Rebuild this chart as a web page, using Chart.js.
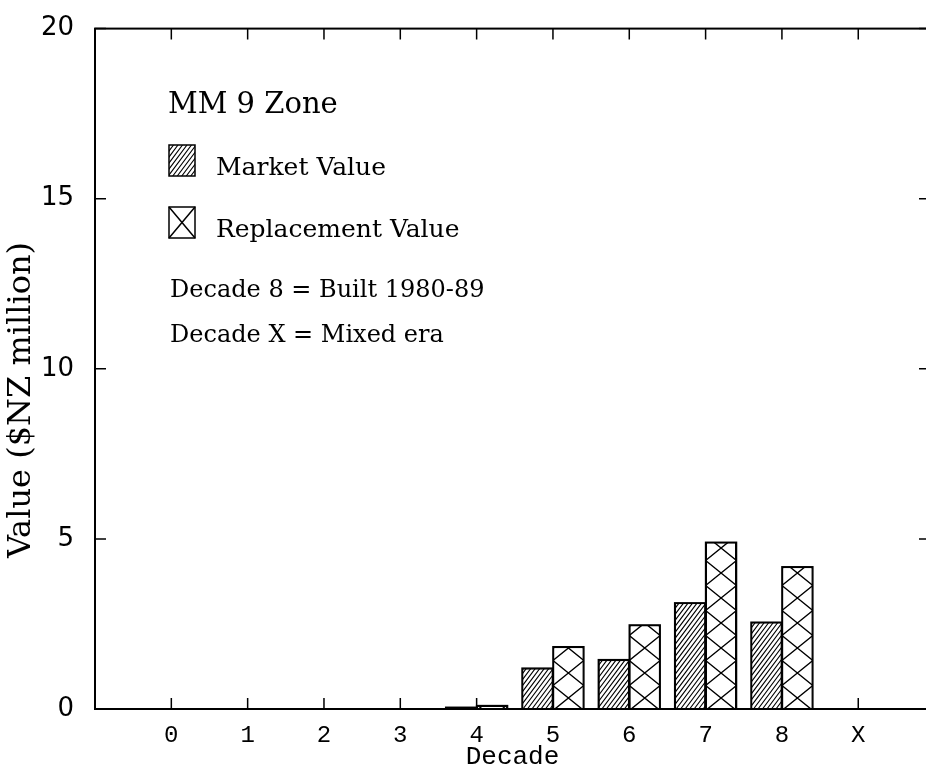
<!DOCTYPE html>
<html>
<head>
<meta charset="utf-8">
<script src="https://cdn.jsdelivr.net/npm/chart.js@4.4.0/dist/chart.umd.min.js"></script>
<style>
html, body { margin: 0; padding: 0; background: #fff; overflow: hidden; }
#wrap { position: relative; width: 932px; height: 776px; }
</style>
</head>
<body>
<div id="wrap"><canvas id="chart"></canvas></div>
<script>
// data
var decades = ['0', '1', '2', '3', '4', '5', '6', '7', '8', 'X'];
var marketValue = [0, 0, 0, 0, 0.05, 1.2, 1.45, 3.12, 2.55, 0];
var replacementValue = [0, 0, 0, 0, 0.1, 1.83, 2.47, 4.9, 4.18, 0];
var yTicks = [0, 5, 10, 15, 20];

var zoneTitle = 'MM 9 Zone';
var seriesNames = ['Market Value', 'Replacement Value'];
var notes = ['Decade 8 = Built 1980-89', 'Decade X = Mixed era'];
var yTitle = 'Value ($NZ million)';

var serif = '"DejaVu Serif", serif';
var mono = '"Liberation Mono", monospace';

function diagHatch(ctx, x0, y0, x1, y1) {
    ctx.save();
    ctx.beginPath();
    ctx.rect(x0, y0, x1 - x0, y1 - y0);
    ctx.clip();
    ctx.beginPath();
    var h = y1 - y0, run = h * 0.75;
    for (var x = x0 - run; x < x1 + 5; x += 4.5) {
        ctx.moveTo(x, y1);
        ctx.lineTo(x + run, y0);
    }
    ctx.lineWidth = 1.1;
    ctx.strokeStyle = '#000';
    ctx.stroke();
    ctx.restore();
}

function crossHatch(ctx, x0, y0, x1, base) {
    var period = 25, half = period / 2;
    ctx.save();
    ctx.beginPath();
    ctx.rect(x0, y0, x1 - x0, base - y0);
    ctx.clip();
    ctx.beginPath();
    for (var yc = base - 11 + period; yc > y0 - period; yc -= period) {
        ctx.moveTo(x0, yc + half);
        ctx.lineTo(x1, yc - half);
        ctx.moveTo(x0, yc - half);
        ctx.lineTo(x1, yc + half);
    }
    ctx.lineWidth = 1.4;
    ctx.strokeStyle = '#000';
    ctx.stroke();
    ctx.restore();
}

var framePlugin = {
    id: 'frame',
    afterDatasetsDraw: function(chart) {
        var ctx = chart.ctx;
        // hatching inside bars
        chart.data.datasets.forEach(function(ds, di) {
            var meta = chart.getDatasetMeta(di);
            meta.data.forEach(function(bar) {
                var p = bar.getProps(['x', 'y', 'base', 'width'], true);
                if (Math.abs(p.base - p.y) < 0.5) return;
                var x0 = p.x - p.width / 2, x1 = p.x + p.width / 2;
                if (ds.hatch === 'diag') diagHatch(ctx, x0, p.y, x1, p.base);
                else crossHatch(ctx, x0, p.y, x1, p.base);
                ctx.save();
                ctx.lineWidth = 1.5;
                ctx.strokeStyle = '#000';
                ctx.strokeRect(x0, p.y, p.width, p.base - p.y);
                ctx.restore();
            });
        });

        // axis box with inward ticks
        var a = chart.chartArea, xs = chart.scales.x, ys = chart.scales.y;
        ctx.save();
        ctx.strokeStyle = '#000';
        ctx.lineWidth = 2;
        ctx.strokeRect(a.left, a.top, a.right - a.left, a.bottom - a.top);
        ctx.lineWidth = 1.5;
        ctx.beginPath();
        decades.forEach(function(d, i) {
            var px = xs.getPixelForValue(i);
            ctx.moveTo(px, a.top); ctx.lineTo(px, a.top + 11);
            ctx.moveTo(px, a.bottom); ctx.lineTo(px, a.bottom - 11);
        });
        yTicks.forEach(function(v) {
            var py = ys.getPixelForValue(v);
            ctx.moveTo(a.left, py); ctx.lineTo(a.left + 11, py);
            ctx.moveTo(a.right, py); ctx.lineTo(a.right - 11, py);
        });
        ctx.stroke();
        ctx.restore();
    },
    afterDraw: function(chart) {
        var ctx = chart.ctx;
        ctx.save();
        ctx.fillStyle = '#000';
        ctx.textAlign = 'left';
        ctx.textBaseline = 'alphabetic';

        ctx.font = '29px ' + serif;
        ctx.fillText(zoneTitle, 168, 113);

        // legend swatches
        ctx.fillStyle = '#fff';
        ctx.fillRect(169, 145, 26, 31);
        diagHatch(ctx, 169, 145, 195, 176);
        ctx.strokeStyle = '#000';
        ctx.lineWidth = 1.5;
        ctx.strokeRect(169, 145, 26, 31);

        ctx.strokeRect(169, 207, 26, 31);
        ctx.beginPath();
        ctx.moveTo(169, 207); ctx.lineTo(195, 238);
        ctx.moveTo(195, 207); ctx.lineTo(169, 238);
        ctx.stroke();

        ctx.fillStyle = '#000';
        ctx.font = '25px ' + serif;
        ctx.fillText(seriesNames[0], 216, 175);
        ctx.fillText(seriesNames[1], 216, 237);
        ctx.font = '24px ' + serif;
        ctx.fillText(notes[0], 170, 297);
        ctx.fillText(notes[1], 170, 342);

        // y axis title
        ctx.translate(22, 400);
        ctx.rotate(-Math.PI / 2);
        ctx.textAlign = 'center';
        ctx.textBaseline = 'middle';
        ctx.font = '32px ' + serif;
        ctx.fillText(yTitle, 0, 0);
        ctx.restore();
    }
};

var ctx = document.getElementById('chart').getContext('2d');
var chart = new Chart(ctx, {
    type: 'bar',
    data: {
        datasets: [{
            label: seriesNames[0],
            data: decades.map(function(d, i) { return { x: i, y: marketValue[i] }; }),
            backgroundColor: '#fff',
            borderColor: '#000',
            borderWidth: 1.5,
            hatch: 'diag'
        }, {
            label: seriesNames[1],
            data: decades.map(function(d, i) { return { x: i, y: replacementValue[i] }; }),
            backgroundColor: '#fff',
            borderColor: '#000',
            borderWidth: 1.5,
            hatch: 'cross'
        }]
    },
    options: {
        responsive: true,
        maintainAspectRatio: false,
        animation: false,
        categoryPercentage: 0.81,
        barPercentage: 1.0,
        layout: { padding: { top: 28, right: 2, left: 0, bottom: 0 } },
        plugins: {
            legend: { display: false },
            tooltip: { enabled: false }
        },
        scales: {
            x: {
                type: 'linear',
                min: -1,
                max: 9.94,
                offset: false,
                grid: { display: false, offset: false },
                border: { display: false },
                ticks: {
                    stepSize: 1,
                    autoSkip: false,
                    maxRotation: 0,
                    includeBounds: false,
                    padding: 4,
                    color: '#000',
                    font: { family: mono, size: 24 },
                    callback: function(v) { return decades[v] !== undefined ? decades[v] : ''; }
                },
                title: {
                    display: true,
                    text: 'Decade',
                    color: '#000',
                    font: { family: mono, size: 26 },
                    padding: { top: 0, bottom: 3 }
                },
                afterFit: function(s) { s.height = 67; }
            },
            y: {
                min: 0,
                max: 20,
                grid: { display: false },
                border: { display: false },
                ticks: {
                    stepSize: 5,
                    padding: 13,
                    color: '#000',
                    font: { family: '"DejaVu Sans", sans-serif', size: 26 }
                },
                afterFit: function(s) { s.width = 95; }
            }
        }
    },
    plugins: [framePlugin]
});
</script>
</body>
</html>
